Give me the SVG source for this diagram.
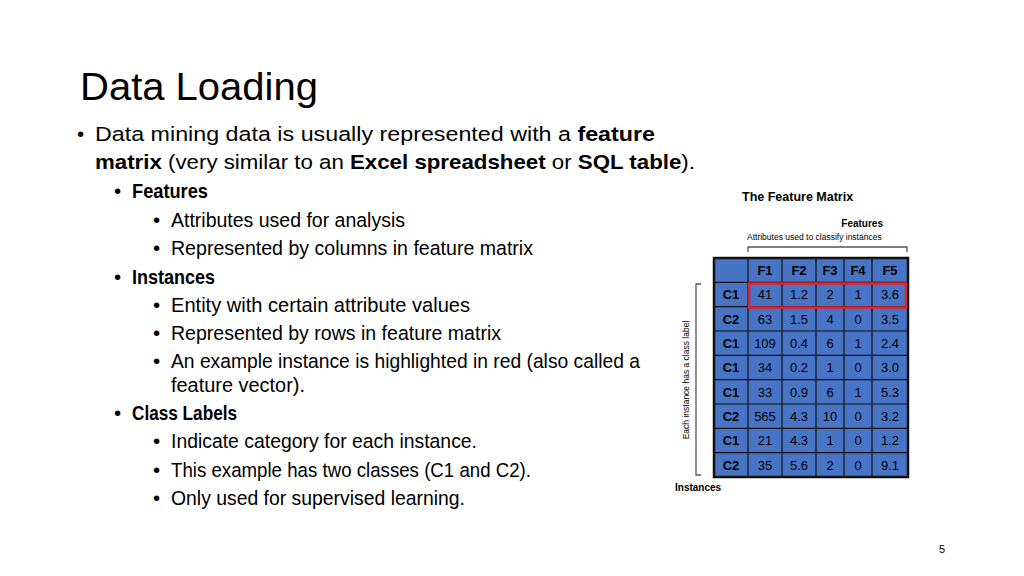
<svg xmlns="http://www.w3.org/2000/svg" width="1024" height="576" viewBox="0 0 1024 576">
<style>
text{font-family:"Liberation Sans",Arial,sans-serif;fill:#000}
.t{font-size:20.5px}
.b{font-weight:bold}
.c{font-size:13px;fill:#111;text-anchor:middle}
.g{stroke:#111;stroke-width:1.2}
.br{fill:none;stroke:#555;stroke-width:1.3}
</style>
<rect width="1024" height="576" fill="#fff"/>
<text x="80" y="100" font-size="38" textLength="238" lengthAdjust="spacingAndGlyphs">Data Loading</text>
<g class="t">
<text x="77" y="141">•</text>
<text x="95" y="141" textLength="560" lengthAdjust="spacingAndGlyphs">Data mining data is usually represented with a <tspan class="b">feature</tspan></text>
<text x="95" y="169" textLength="600" lengthAdjust="spacingAndGlyphs"><tspan class="b">matrix</tspan> (very similar to an <tspan class="b">Excel spreadsheet</tspan> or <tspan class="b">SQL table</tspan>).</text>
<text x="114" y="198">•</text><text x="132" y="198" class="b" textLength="76" lengthAdjust="spacingAndGlyphs">Features</text>
<text x="153" y="227">•</text><text x="171" y="227" textLength="234" lengthAdjust="spacingAndGlyphs">Attributes used for analysis</text>
<text x="153" y="255">•</text><text x="171" y="255" textLength="362" lengthAdjust="spacingAndGlyphs">Represented by columns in feature matrix</text>
<text x="114" y="284">•</text><text x="132" y="284" class="b" textLength="83" lengthAdjust="spacingAndGlyphs">Instances</text>
<text x="153" y="312">•</text><text x="171" y="312" textLength="299" lengthAdjust="spacingAndGlyphs">Entity with certain attribute values</text>
<text x="153" y="340">•</text><text x="171" y="340" textLength="330" lengthAdjust="spacingAndGlyphs">Represented by rows in feature matrix</text>
<text x="153" y="368">•</text><text x="171" y="368" textLength="469" lengthAdjust="spacingAndGlyphs">An example instance is highlighted in red (also called a</text>
<text x="171" y="392" textLength="134" lengthAdjust="spacingAndGlyphs">feature vector).</text>
<text x="114" y="420">•</text><text x="132" y="420" class="b" textLength="105" lengthAdjust="spacingAndGlyphs">Class Labels</text>
<text x="153" y="448">•</text><text x="171" y="448" textLength="306" lengthAdjust="spacingAndGlyphs">Indicate category for each instance.</text>
<text x="153" y="477">•</text><text x="171" y="477" textLength="360" lengthAdjust="spacingAndGlyphs">This example has two classes (C1 and C2).</text>
<text x="153" y="505">•</text><text x="171" y="505" textLength="294" lengthAdjust="spacingAndGlyphs">Only used for supervised learning.</text>
</g>
<g id="matrix">
<text x="742" y="201" font-size="12.5" class="b">The Feature Matrix</text>
<text x="883" y="227" font-size="10" class="b" text-anchor="end">Features</text>
<text x="747" y="240" font-size="8.5" fill="#333">Attributes used to classify instances</text>
<path class="br" d="M748 252V247H907V252"/>
<path class="br" d="M701 284H696V475H701"/>
<text transform="translate(689 380) rotate(-90)" font-size="8.5" fill="#333" text-anchor="middle">Each instance has a class label</text>
<text x="675" y="491" font-size="10" class="b">Instances</text>
<rect x="714" y="258" width="194" height="219" fill="#4874c6"/>
<g class="g">
<path d="M748 258V477M782 258V477M816 258V477M844 258V477M872 258V477"/>
<path d="M714 282.3H908M714 306.6H908M714 331H908M714 355.3H908M714 379.6H908M714 404H908M714 428.3H908M714 452.6H908"/>
</g>
<rect x="714" y="258" width="194" height="219" fill="none" stroke="#111" stroke-width="2.5"/>
<g class="c">
<g class="b"><text x="765" y="275">F1</text><text x="799" y="275">F2</text><text x="830" y="275">F3</text><text x="858" y="275">F4</text><text x="890" y="275">F5</text></g>
<g class="b"><text x="731" y="299">C1</text><text x="731" y="324">C2</text><text x="731" y="348">C1</text><text x="731" y="372">C1</text><text x="731" y="397">C1</text><text x="731" y="421">C2</text><text x="731" y="445">C1</text><text x="731" y="470">C2</text></g>
<text x="765" y="299">41</text><text x="799" y="299">1.2</text><text x="830" y="299">2</text><text x="858" y="299">1</text><text x="890" y="299">3.6</text>
<text x="765" y="324">63</text><text x="799" y="324">1.5</text><text x="830" y="324">4</text><text x="858" y="324">0</text><text x="890" y="324">3.5</text>
<text x="765" y="348">109</text><text x="799" y="348">0.4</text><text x="830" y="348">6</text><text x="858" y="348">1</text><text x="890" y="348">2.4</text>
<text x="765" y="372">34</text><text x="799" y="372">0.2</text><text x="830" y="372">1</text><text x="858" y="372">0</text><text x="890" y="372">3.0</text>
<text x="765" y="397">33</text><text x="799" y="397">0.9</text><text x="830" y="397">6</text><text x="858" y="397">1</text><text x="890" y="397">5.3</text>
<text x="765" y="421">565</text><text x="799" y="421">4.3</text><text x="830" y="421">10</text><text x="858" y="421">0</text><text x="890" y="421">3.2</text>
<text x="765" y="445">21</text><text x="799" y="445">4.3</text><text x="830" y="445">1</text><text x="858" y="445">0</text><text x="890" y="445">1.2</text>
<text x="765" y="470">35</text><text x="799" y="470">5.6</text><text x="830" y="470">2</text><text x="858" y="470">0</text><text x="890" y="470">9.1</text>
</g>
<rect x="749" y="283.5" width="157" height="24" fill="none" stroke="#e0202a" stroke-width="2.5"/>
</g>
<text x="942" y="553" font-size="11" fill="#888" text-anchor="middle">5</text>
</svg>
